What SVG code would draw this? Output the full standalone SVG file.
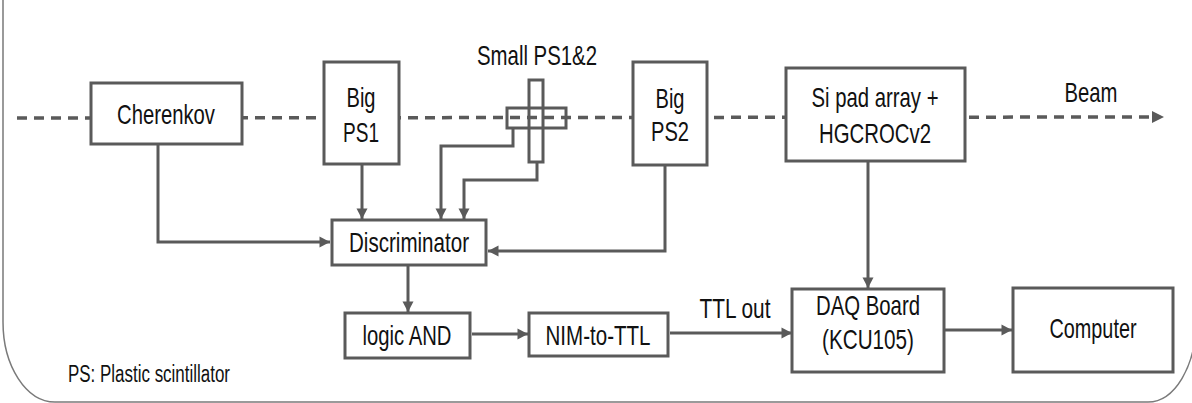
<svg xmlns="http://www.w3.org/2000/svg" width="1192" height="403" viewBox="0 0 1192 403">
<defs>
<style>
.box{fill:#fff;stroke:#5a5a5a;stroke-width:3}
.sp{fill:none;stroke:#5a5a5a;stroke-width:3}
.ln{fill:none;stroke:#5a5a5a;stroke-width:3}
.t{font-family:"Liberation Sans",Arial,sans-serif;font-size:28px;fill:#111;text-anchor:middle}
.s{font-family:"Liberation Sans",Arial,sans-serif;font-size:23px;fill:#111}
</style>
<marker id="ah" markerUnits="userSpaceOnUse" markerWidth="12" markerHeight="12" viewBox="0 0 12 12" refX="11" refY="6" orient="auto">
<path d="M0.5,0.5 L11,6 L0.5,11.5 Z" fill="#5a5a5a"/>
</marker>
</defs>
<rect width="1192" height="403" fill="#fff"/>
<path d="M3,0 V322 A52,80 0 0 0 55,402 H1148 A48,80 0 0 0 1196,322" fill="none" stroke="#7a7a7a" stroke-width="1.5"/>

<g id="beam">
<line x1="17" y1="118" x2="1152" y2="117" stroke="#5a5a5a" stroke-width="3.5" stroke-dasharray="10,7"/>
<path d="M1152,111 L1164,117 L1152,123 Z" fill="#5a5a5a"/>
<text class="t" x="1091" y="102" textLength="53" lengthAdjust="spacingAndGlyphs">Beam</text>
</g>

<g id="connectors">
<polyline class="ln" points="158,144 158,242 330,242" marker-end="url(#ah)"/>
<polyline class="ln" points="362,164 362,219" marker-end="url(#ah)"/>
<polyline class="ln" points="513,128 513,146 441,146 441,219" marker-end="url(#ah)"/>
<polyline class="ln" points="537,162 537,180 464,180 464,219" marker-end="url(#ah)"/>
<polyline class="ln" points="665,165 665,251 488,251" marker-end="url(#ah)"/>
<polyline class="ln" points="408,265 408,312" marker-end="url(#ah)"/>
<polyline class="ln" points="472,334 528,334" marker-end="url(#ah)"/>
<polyline class="ln" points="670,333 792,333" marker-end="url(#ah)"/>
<polyline class="ln" points="868,161 868,288" marker-end="url(#ah)"/>
<polyline class="ln" points="944,330 1012,330" marker-end="url(#ah)"/>
</g>

<g id="cherenkov">
<rect class="box" x="91" y="83" width="151" height="61"/>
<text class="t" x="166" y="124" textLength="98" lengthAdjust="spacingAndGlyphs">Cherenkov</text>
</g>

<g id="bigps1">
<rect class="box" x="324" y="62" width="75" height="102"/>
<text class="t" x="361" y="107" textLength="29" lengthAdjust="spacingAndGlyphs">Big</text>
<text class="t" x="361" y="142" textLength="36" lengthAdjust="spacingAndGlyphs">PS1</text>
</g>

<g id="smallps">
<rect class="sp" x="507" y="108" width="59" height="20"/>
<rect class="sp" x="529" y="80" width="14" height="82"/>
<text class="t" x="537" y="65" textLength="120" lengthAdjust="spacingAndGlyphs">Small PS1&amp;2</text>
</g>

<g id="bigps2">
<rect class="box" x="633" y="62" width="74" height="103"/>
<text class="t" x="670" y="108" textLength="29" lengthAdjust="spacingAndGlyphs">Big</text>
<text class="t" x="670" y="141" textLength="38" lengthAdjust="spacingAndGlyphs">PS2</text>
</g>

<g id="sipad">
<rect class="box" x="786" y="68" width="179" height="93"/>
<text class="t" x="875" y="107" textLength="127" lengthAdjust="spacingAndGlyphs">Si pad array +</text>
<text class="t" x="875" y="143" textLength="112" lengthAdjust="spacingAndGlyphs">HGCROCv2</text>
</g>

<g id="discriminator">
<rect class="box" x="332" y="220" width="154" height="45"/>
<text class="t" x="409" y="252" textLength="120" lengthAdjust="spacingAndGlyphs">Discriminator</text>
</g>

<g id="logicand">
<rect class="box" x="345" y="313" width="125" height="45"/>
<text class="t" x="407" y="345" textLength="89" lengthAdjust="spacingAndGlyphs">logic AND</text>
</g>

<g id="nimttl">
<rect class="box" x="529" y="313" width="139" height="43"/>
<text class="t" x="598" y="345" textLength="105" lengthAdjust="spacingAndGlyphs">NIM-to-TTL</text>
</g>

<g id="ttlout">
<text class="t" x="735" y="318" textLength="71" lengthAdjust="spacingAndGlyphs">TTL out</text>
</g>

<g id="daq">
<rect class="box" x="792" y="289" width="152" height="83"/>
<text class="t" x="868" y="315" textLength="104" lengthAdjust="spacingAndGlyphs">DAQ Board</text>
<text class="t" x="868" y="349" textLength="92" lengthAdjust="spacingAndGlyphs">(KCU105)</text>
</g>

<g id="computer">
<rect class="box" x="1013" y="288" width="160" height="84"/>
<text class="t" x="1093" y="338" textLength="87" lengthAdjust="spacingAndGlyphs">Computer</text>
</g>

<g id="legend">
<text class="s" x="68" y="382" textLength="162" lengthAdjust="spacingAndGlyphs">PS: Plastic scintillator</text>
</g>
</svg>
